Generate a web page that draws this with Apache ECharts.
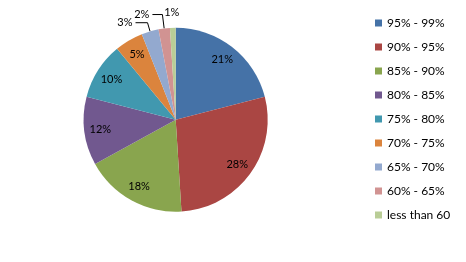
<!DOCTYPE html>
<html>
<head>
<meta charset="utf-8">
<script src="https://cdn.jsdelivr.net/npm/echarts@6/dist/echarts.min.js"></script>
<style>
html,body{margin:0;padding:0;background:#fff;}
#c{width:466px;height:262px;}
</style>
</head>
<body>
<div id="c"></div>
<script>
var categories = ['95% - 99%','90% - 95%','85% - 90%','80% - 85%','75% - 80%','70% - 75%','65% - 70%','60% - 65%','less than 60'];
var values = [21, 28, 18, 12, 10, 5, 3, 2, 1];
var colors = ['#4572A7','#AA4643','#89A54E','#71588F','#4198AF','#DB843D','#93A9CF','#D19392','#B9CD96'];
var outsideIdx = [6, 7, 8];

var FONT = 'Lato';
var chart = echarts.init(document.getElementById('c'), null, {renderer: 'canvas'});

var mainData = categories.map(function (n, i) {
  var d = {name: n, value: values[i], itemStyle: {color: colors[i]}};
  if (outsideIdx.indexOf(i) >= 0) {
    var cfg = {6: [9, 12, true], 7: [14, 10, true], 8: [15, 0, false]}[i];
    d.label = {show: true, position: 'outside'};
    d.labelLine = {show: cfg[2], length: cfg[0], length2: cfg[1]};
  } else {
    d.label = {show: false};
    d.labelLine = {show: false};
  }
  return d;
});
var labelData = categories.map(function (n, i) {
  return {name: n, value: values[i], label: {show: outsideIdx.indexOf(i) < 0}};
});

chart.setOption({
  animation: false,
  color: colors,
  legend: {
    orient: 'vertical',
    left: 370,
    top: 12,
    itemWidth: 7,
    itemHeight: 7,
    itemGap: 12,
    icon: 'rect',
    textStyle: {fontFamily: FONT, fontSize: 12, color: '#000', lineHeight: 12},
    data: categories
  },
  series: [{
    type: 'pie',
    name: 'main',
    center: [175.7, 119.7],
    radius: [0, 92],
    startAngle: 90,
    clockwise: true,
    avoidLabelOverlap: false,
    itemStyle: {borderWidth: 0},
    label: {
      formatter: '{d}%',
      fontFamily: FONT, fontSize: 11, color: '#000',
      distanceToLabelLine: 3
    },
    labelLine: {lineStyle: {color: '#000', width: 1}},
    labelLayout: function (p) {
      if (p.dataIndex === 8) return {dx: 10};
    },
    emphasis: {disabled: true},
    data: mainData
  }, {
    type: 'pie',
    name: 'labels',
    center: [175.7, 119.7],
    radius: [54, 92],
    startAngle: 90,
    clockwise: true,
    silent: true,
    legendHoverLink: false,
    itemStyle: {color: 'rgba(0,0,0,0)', borderWidth: 0},
    label: {
      show: true, position: 'inside', formatter: '{d}%',
      fontFamily: FONT, fontSize: 11, color: '#000'
    },
    labelLine: {show: false},
    emphasis: {disabled: true},
    data: labelData
  }]
});
</script>
</body>
</html>
